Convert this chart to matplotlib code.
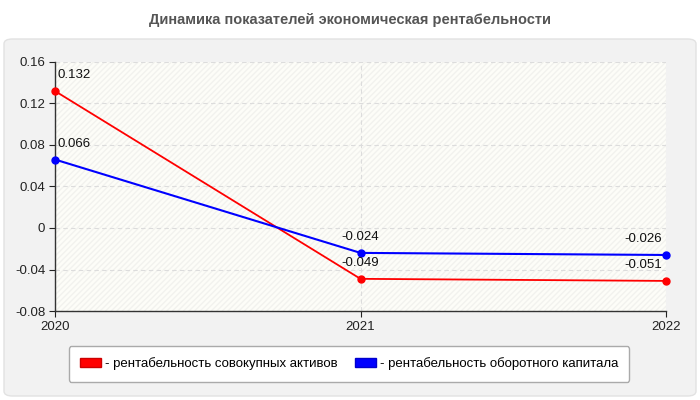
import matplotlib.pyplot as plt
from matplotlib.patches import FancyBboxPatch, Patch

plt.rcParams['font.family'] = ['Liberation Sans', 'DejaVu Sans']

years = ['2020', '2021', '2022']
assets = [0.132, -0.049, -0.051]
working_capital = [0.066, -0.024, -0.026]
y_ticks = [-0.08, -0.04, 0, 0.04, 0.08, 0.12, 0.16]
y_tick_labels = ['-0.08', '-0.04', '0', '0.04', '0.08', '0.12', '0.16']

fig = plt.figure(figsize=(7, 4), dpi=100)
fig.patch.set_facecolor('white')

# gray rounded panel behind the chart
panel = FancyBboxPatch((4 / 700, 4 / 400), 692 / 700, 357 / 400,
                       boxstyle='round,pad=0,rounding_size=0.012',
                       transform=fig.transFigure, facecolor='#f2f2f2',
                       edgecolor='#e2e2e2', linewidth=1, zorder=-10)
fig.patches.append(panel)

fig.text(0.5, 380 / 400, 'Динамика показателей экономическая рентабельности',
         ha='center', va='center', fontsize=10.5, fontweight='bold', color='#555555')

ax = fig.add_axes([55 / 700, 89 / 400, 611 / 700, 249 / 400])
ax.set_facecolor('#fdfdf8')
ax.patch.set_hatch('//////')
ax.patch.set_edgecolor('#f2f2ee')
ax.patch.set_linewidth(0)

x = list(range(len(years)))
ax.plot(x, assets, color='#ff0000', lw=1.3, marker='o', ms=5, zorder=3, clip_on=False)
ax.plot(x, working_capital, color='#0000ff', lw=1.5, marker='o', ms=5, zorder=3, clip_on=False)

ax.set_xlim(0, 2)
ax.set_ylim(-0.08, 0.16)
ax.set_xticks(x)
ax.set_xticklabels(years)
ax.set_yticks(y_ticks)
ax.set_yticklabels(y_tick_labels)
ax.tick_params(axis='both', labelsize=9.5, colors='#222222', length=4, width=0.8)
ax.tick_params(axis='y', pad=3)

for s in ['top', 'right']:
    ax.spines[s].set_visible(False)
for s in ['left', 'bottom']:
    ax.spines[s].set_color('#333333')
    ax.spines[s].set_linewidth(1)

ax.grid(True, linestyle=(0, (4, 3)), color='#dcdcdc', linewidth=0.8)
ax.set_axisbelow(True)

aligns = ['left', 'center', 'right']
for series in (assets, working_capital):
    for i, v in enumerate(series):
        dx = {'left': 2, 'center': 0, 'right': -3}[aligns[i]]
        ax.annotate(f'{v:g}', (i, v), xytext=(dx, 7), textcoords='offset points',
                    ha=aligns[i], va='bottom', fontsize=9.5, color='#111111')

handles = [Patch(facecolor='#ff0000', edgecolor='#cc0000'),
           Patch(facecolor='#0000ff', edgecolor='#0000cc')]
labels = ['- рентабельность совокупных активов', '- рентабельность оборотного капитала']
leg = fig.legend(handles, labels, loc='center', bbox_to_anchor=(349 / 700, 36 / 400),
                 ncol=2, fontsize=9.5, frameon=True, fancybox=True,
                 handlelength=1.6, handleheight=0.7, handletextpad=0.3,
                 columnspacing=1.3, borderpad=0.85)
leg.get_frame().set_edgecolor('#aaaaaa')
leg.get_frame().set_facecolor('white')
leg.get_frame().set_alpha(1)

plt.savefig('out.png', dpi=100)
